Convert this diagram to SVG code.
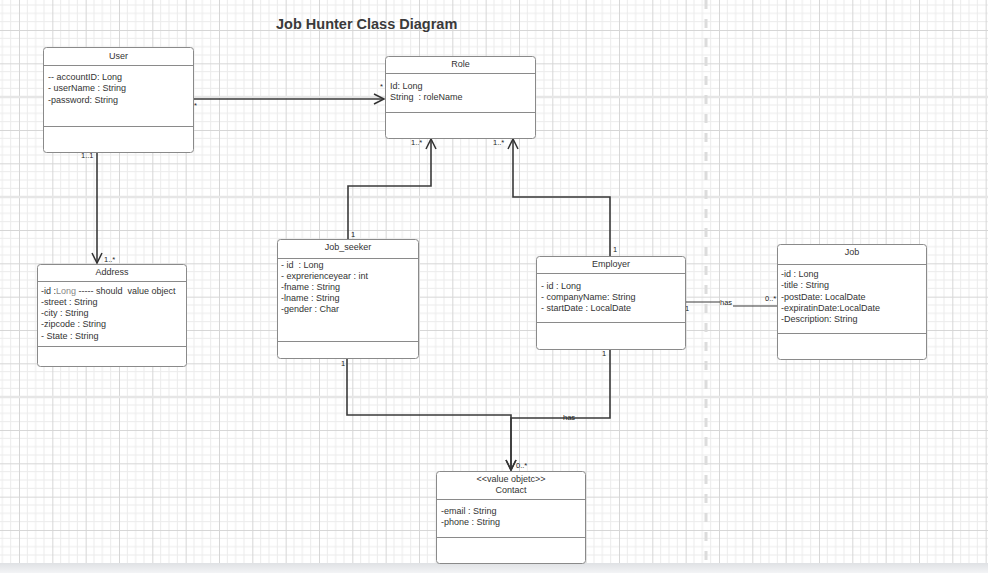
<svg xmlns="http://www.w3.org/2000/svg" width="988" height="573" viewBox="0 0 988 573">
<defs>
<pattern id="grid" patternUnits="userSpaceOnUse" x="19" y="30" width="33.333" height="33.333">
<path d="M8.333,0V33.333M16.667,0V33.333M25,0V33.333M0,8.333H33.333M0,16.667H33.333M0,25H33.333" stroke="#ebebeb" stroke-width="1" fill="none"/>
<path d="M0.5,0V33.333M0,0.5H33.333" stroke="#d6d6d6" stroke-width="1" fill="none"/>
</pattern>
<linearGradient id="band" x1="0" y1="0" x2="0" y2="1">
<stop offset="0" stop-color="#dfe1e4"/>
<stop offset="1" stop-color="#f3f4f6"/>
</linearGradient>
<marker id="arr" markerUnits="userSpaceOnUse" markerWidth="14" markerHeight="14" refX="11" refY="6" orient="auto">
<path d="M1,1 L11,6 L1,11" fill="none" stroke="#333" stroke-width="1.5"/>
</marker>
</defs>
<style>
.box{fill:#fff;stroke:#8a8a8a;stroke-width:1}
.sep{stroke:#8a8a8a;stroke-width:1}
.t{font-family:"Liberation Sans",Arial,sans-serif;font-size:9px;fill:#333;white-space:pre}
.c{text-anchor:middle}
.l{font-family:"Liberation Sans",Arial,sans-serif;font-size:7.5px;fill:#222}
.e{fill:none;stroke:#3a3a3a;stroke-width:1.6}
</style>
<rect width="988" height="573" fill="#fff"/>
<rect width="988" height="573" fill="url(#grid)"/>
<path d="M0,97H988M0,197H988M0,397H988" stroke="#e6e6e6" stroke-width="2.5"/>
<line x1="706" y1="0" x2="706" y2="563" stroke="#dcdcdc" stroke-width="3" stroke-dasharray="9,10"/>
<rect x="0" y="563" width="988" height="10" fill="url(#band)"/>
<text x="276" y="29" font-family="Liberation Sans,Arial,sans-serif" font-size="14.5" font-weight="bold" fill="#3a3a3a">Job Hunter Class Diagram</text>

<g id="connectors">
<path class="e" d="M193,99H384" marker-end="url(#arr)"/>
<path class="e" d="M97,152V263" marker-end="url(#arr)"/>
<path class="e" d="M348,239V186H431V139" marker-end="url(#arr)"/>
<path class="e" d="M610,256V197H513V139" marker-end="url(#arr)"/>
<path class="e" d="M686,302H720M733,306H777" style="stroke-width:1.2"/>
<path class="e" d="M347,358V415H511V470" marker-end="url(#arr)"/>
<path class="e" d="M610,349V418H511V470" marker-end="url(#arr)"/>
<text class="l" x="194" y="108">*</text>
<text class="l" x="380" y="89">*</text>
<text class="l" x="81" y="158">1..1</text>
<text class="l" x="104" y="262">1..*</text>
<text class="l" x="351" y="237">1</text>
<text class="l" x="411" y="145">1..*</text>
<text class="l" x="493" y="145">1..*</text>
<text class="l" x="613" y="252">1</text>
<text class="l" x="685" y="311">1</text>
<text class="l" x="765" y="301">0..*</text>
<text class="l" x="720" y="305">has</text>
<text class="l" x="341" y="366">1</text>
<text class="l" x="602" y="356">1</text>
<text class="l" x="563" y="420">has</text>
<text class="l" x="516" y="468">0..*</text>
</g>

<g id="user">
<rect class="box" x="43.5" y="47.5" width="150" height="105" rx="3"/>
<line class="sep" x1="43.5" y1="65.5" x2="193.5" y2="65.5"/>
<line class="sep" x1="43.5" y1="126.5" x2="193.5" y2="126.5"/>
<text class="t c" x="118.5" y="58.5">User</text>
<text class="t" x="48" y="80">-- accountID: Long</text>
<text class="t" x="48" y="91">- userName : String</text>
<text class="t" x="48" y="102.5">-password: String</text>
</g>

<g id="role">
<rect class="box" x="385.5" y="56.5" width="150" height="82" rx="3"/>
<line class="sep" x1="385.5" y1="73.5" x2="535.5" y2="73.5"/>
<line class="sep" x1="385.5" y1="112.5" x2="535.5" y2="112.5"/>
<text class="t c" x="460.5" y="67">Role</text>
<text class="t" x="390" y="89">Id: Long</text>
<text class="t" x="390" y="100">String  : roleName</text>
</g>

<g id="address">
<rect class="box" x="37.5" y="264.5" width="149" height="102" rx="3"/>
<line class="sep" x1="37.5" y1="281.5" x2="186.5" y2="281.5"/>
<line class="sep" x1="37.5" y1="346.5" x2="186.5" y2="346.5"/>
<text class="t c" x="112" y="275">Address</text>
<text class="t" x="41" y="294">-id :<tspan fill="#888">Long</tspan> ----- should  value object</text>
<text class="t" x="41" y="305">-street : String</text>
<text class="t" x="41" y="316">-city : String</text>
<text class="t" x="41" y="327">-zipcode : String</text>
<text class="t" x="41" y="339">- State : String</text>
</g>

<g id="job_seeker">
<rect class="box" x="277.5" y="239.5" width="141" height="119" rx="3"/>
<line class="sep" x1="277.5" y1="258.5" x2="418.5" y2="258.5"/>
<line class="sep" x1="277.5" y1="341.5" x2="418.5" y2="341.5"/>
<text class="t c" x="348" y="250">Job_seeker</text>
<text class="t" x="281" y="268">- id  : Long</text>
<text class="t" x="281" y="279">- exprerienceyear : int</text>
<text class="t" x="281" y="290">-fname : String</text>
<text class="t" x="281" y="301">-lname : String</text>
<text class="t" x="281" y="312">-gender : Char</text>
</g>

<g id="employer">
<rect class="box" x="536.5" y="256.5" width="149" height="93" rx="3"/>
<line class="sep" x1="536.5" y1="273.5" x2="685.5" y2="273.5"/>
<line class="sep" x1="536.5" y1="322.5" x2="685.5" y2="322.5"/>
<text class="t c" x="611" y="267">Employer</text>
<text class="t" x="541" y="289">- id : Long</text>
<text class="t" x="541" y="300">- companyName: String</text>
<text class="t" x="541" y="311">- startDate : LocalDate</text>
</g>

<g id="job">
<rect class="box" x="777.5" y="244.5" width="149" height="115" rx="3"/>
<line class="sep" x1="777.5" y1="264.5" x2="926.5" y2="264.5"/>
<line class="sep" x1="777.5" y1="333.5" x2="926.5" y2="333.5"/>
<text class="t c" x="852" y="255">Job</text>
<text class="t" x="781" y="277">-id : Long</text>
<text class="t" x="781" y="288">-title : String</text>
<text class="t" x="781" y="300">-postDate: LocalDate</text>
<text class="t" x="781" y="311">-expiratinDate:LocalDate</text>
<text class="t" x="781" y="322">-Description: String</text>
</g>

<g id="contact">
<rect class="box" x="436.5" y="471.5" width="149" height="92" rx="3"/>
<line class="sep" x1="436.5" y1="499.5" x2="585.5" y2="499.5"/>
<line class="sep" x1="436.5" y1="537.5" x2="585.5" y2="537.5"/>
<text class="t c" x="511" y="482">&lt;&lt;value objetc&gt;&gt;</text>
<text class="t c" x="511" y="493">Contact</text>
<text class="t" x="441" y="514">-email : String</text>
<text class="t" x="441" y="525">-phone : String</text>
</g>
</svg>
